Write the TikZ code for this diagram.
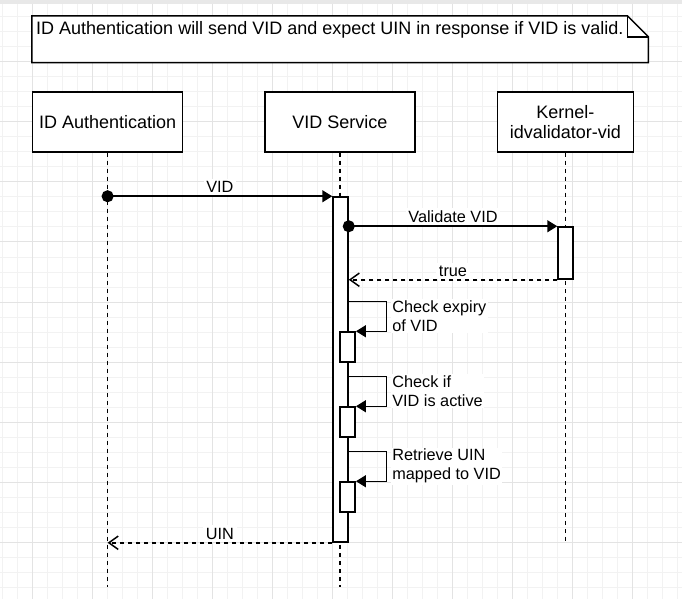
\documentclass[tikz,border=0pt]{standalone}
\usepackage{fontspec}
\setmainfont{Liberation Sans}
\usetikzlibrary{positioning, arrows.meta}

\begin{document}
\begin{tikzpicture}[
    % GLOBAL CFG
    x=0.75pt, y=-0.75pt,
    line width=1.125pt,
    % Styles
    actor/.style={
        rectangle,
        draw,
        fill=white,
        minimum width=112.5pt,
        minimum height=45pt,
        align=center,
        font=\fontsize{13.5}{15}\selectfont,
    },
    actbar/.style={
        rectangle,
        draw,
        fill=white,
        minimum width=11.25pt,
        inner sep=0pt,
    },
    gridminor/.style={
        draw=black!5,
        line width=0.75pt,
    },
    gridmajor/.style={
        draw=black!11,
        line width=0.75pt,
    },
    lifeline/.style={
        dash pattern=on 3pt off 3pt,
    },
    mylabel/.style={
        font=\fontsize{12.2}{14.25}\selectfont,
        fill=white,
        inner sep=2pt,
    },
    sidelabel/.style={
        mylabel,
        align=left,
        anchor=west,
        inner sep=1pt,
        xshift=3pt,
    },
    ArrowMsg/.style={
        {Circle[length=9pt]}-{Triangle[length=7.5pt,width=9pt]},
        shorten <=-4.5pt,
    },
    ArrowRet/.style={
        -{Straight Barb[length=7pt,width=10pt]},
        dash pattern=on 3pt off 3pt,
    },
    ArrowSelf/.style={
        -{Triangle[length=7.5pt,width=9pt]},
    },
]
\useasboundingbox (0,0) rectangle (682,599);

% Background grid
    \fill[white] (0,0) rectangle (682,599);
    \foreach \gx in {2,17,...,677} \draw[gridminor] (\gx,0) -- (\gx,599);
    \foreach \gy in {2,17,...,597} \draw[gridminor] (0,\gy) -- (682,\gy);
    \foreach \gx in {32,92,...,632} \draw[gridmajor] (\gx,0) -- (\gx,599);
    \foreach \gy in {2,62,...,542} \draw[gridmajor] (0,\gy) -- (682,\gy);
    \fill[black!9] (0,0) rectangle (682,4);

% Draw the note with folded corner
    \node [minimum width=461.25pt, minimum height=34pt, inner sep=0pt] (note) at (340.2,39.3) {};
    \draw [fill=white] (note.north west) -- ([xshift=-15.75pt]note.north east)
        -- ([yshift=-15.75pt]note.north east) -- (note.south east) -- (note.south west) -- cycle;
    \draw ([xshift=-15.75pt]note.north east) |- ([yshift=-15.75pt]note.north east);
    \node [anchor=north west, inner sep=0pt, font=\fontsize{13.5}{15}\selectfont] (notetext)
        at ([shift={(3.5,5)}]note.north west) {ID Authentication will send VID and expect UIN in response if VID is valid.};

% Draw participants
    \node [actor] (idauth) at (107.6,122) {ID Authentication};
    \node [actor] (vidsvc) at (340,122) {VID Service};
    \node [actor, minimum width=102pt] (kernel) at (565.3,122) {Kernel-\\idvalidator-vid};

    % Lifelines
    \coordinate (idend) at (107.6,587);
    \coordinate (vidend) at (340,587);
    \coordinate (kend) at (565.3,542);
    \draw [lifeline] (idauth) -- (idend);
    \draw [lifeline] (vidsvc) -- (vidend);
    \draw [lifeline] (kernel) -- (kend);

    % Activation bars
    \node [actbar, minimum height=258.75pt] (vidact) at (340.5,369.5) {};
    \node [actbar, minimum height=39pt] (kact) at (565.5,253) {};
    \node [actbar, minimum height=22.5pt] (act1) at (347.7,347) {};
    \node [actbar, minimum height=22.5pt] (act2) at (347.7,422) {};
    \node [actbar, minimum height=22.5pt] (act3) at (347.7,497) {};

% Messages
    \draw [ArrowMsg] (idauth |- vidact.north west) -- (vidact.north west)
        node[midway, above, mylabel] {VID};
    \draw [ArrowMsg] (vidact.east |- kact.north) -- (kact.north west)
        node[midway, above, mylabel] {Validate VID};
    \draw [ArrowRet] (kact.south west) -- (vidact.east |- kact.south)
        node[midway, above, mylabel] {true};

    % Self calls
    \draw [ArrowSelf] (vidact.east |- act1.north) ++(0,-30) -- ++(37.5,0) |- (act1.north east)
        node[pos=0.25, sidelabel] {Check expiry\\of VID};
    \draw [ArrowSelf] (vidact.east |- act2.north) ++(0,-30) -- ++(37.5,0) |- (act2.north east)
        node[pos=0.25, sidelabel] {Check if\\VID is active};
    \draw [ArrowSelf] (vidact.east |- act3.north) ++(0,-30) -- ++(37.5,0) |- (act3.north east)
        node[pos=0.25, sidelabel] {Retrieve UIN\\mapped to VID};

    % Reply
    \draw [ArrowRet] (vidact.south west) -- (idauth |- vidact.south)
        node[midway, above, mylabel] {UIN};

\end{tikzpicture}
\end{document}
